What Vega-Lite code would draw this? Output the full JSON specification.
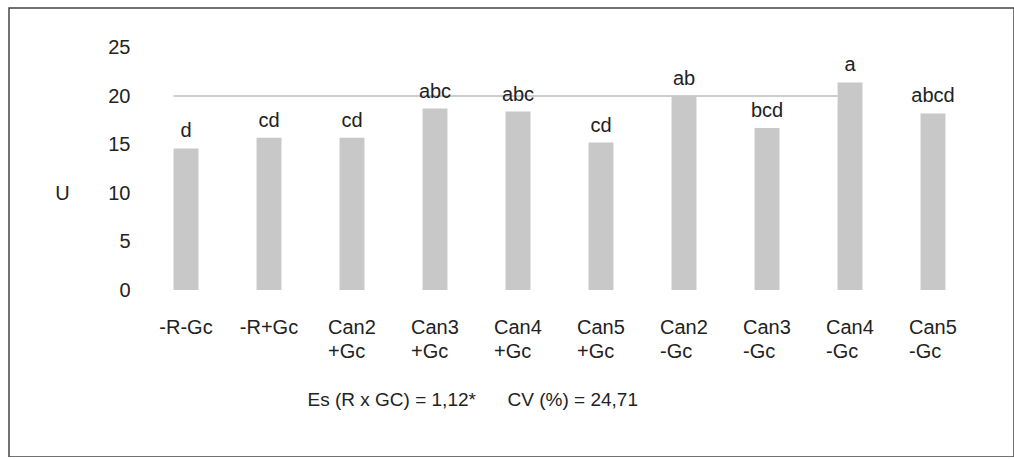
{
  "$schema": "https://vega.github.io/schema/vega-lite/v6.json",
  "autosize": {"type": "none"},
  "padding": {"left": 9, "top": 8, "right": 0, "bottom": 0},
  "width": 1005,
  "height": 449,
  "background": "white",
  "config": {
    "view": {"stroke": "#444444", "strokeWidth": 1.5},
    "font": "Liberation Sans",
    "text": {"font": "Liberation Sans"}
  },
  "data": {
    "values": [
      {"trt": "-R-Gc", "val": 14.6, "grp": "d"},
      {"trt": "-R+Gc", "val": 15.7, "grp": "cd"},
      {"trt": "Can2 +Gc", "val": 15.7, "grp": "cd"},
      {"trt": "Can3 +Gc", "val": 18.7, "grp": "abc"},
      {"trt": "Can4 +Gc", "val": 18.4, "grp": "abc"},
      {"trt": "Can5 +Gc", "val": 15.2, "grp": "cd"},
      {"trt": "Can2 -Gc", "val": 20.0, "grp": "ab"},
      {"trt": "Can3 -Gc", "val": 16.7, "grp": "bcd"},
      {"trt": "Can4 -Gc", "val": 21.4, "grp": "a"},
      {"trt": "Can5 -Gc", "val": 18.2, "grp": "abcd"}
    ]
  },
  "layer": [
    {
      "data": {"values": [{"y": 20, "a": "-R-Gc", "b": "Can4 -Gc"}]},
      "mark": {"type": "rule", "color": "#bdbdbd", "strokeWidth": 1.5},
      "encoding": {
        "x": {"field": "a", "type": "nominal", "bandPosition": 0},
        "x2": {"field": "b", "bandPosition": 0},
        "y": {"field": "y", "type": "quantitative"}
      }
    },
    {
      "mark": {"type": "bar", "color": "#c8c8c8"},
      "encoding": {
        "x": {
          "field": "trt",
          "type": "nominal",
          "sort": null,
          "scale": {
            "domain": ["-R-Gc", "-R+Gc", "Can2 +Gc", "Can3 +Gc", "Can4 +Gc", "Can5 +Gc", "Can2 -Gc", "Can3 -Gc", "Can4 -Gc", "Can5 -Gc"],
            "range": [135.5, 965.5],
            "paddingInner": 0.7,
            "paddingOuter": 0.35
          },
          "axis": {
            "orient": "bottom",
            "offset": -167,
            "domain": false,
            "ticks": false,
            "grid": false,
            "labelAngle": 0,
            "labelPadding": 43,
            "labelBaseline": "alphabetic",
            "labelFontSize": 20,
            "labelLineHeight": 24,
            "labelColor": "#222222",
            "labelOverlap": false,
            "labelBound": false,
            "labelExpr": "split(datum.value, ' ')",
            "labelAlign": {"condition": {"test": "indexof(datum.value, ' ') > 0", "value": "left"}, "value": "center"},
            "labelOffset": {"condition": {"test": "indexof(datum.value, ' ') > 0", "value": -24}, "value": 0},
            "title": "Es (R x GC) = 1,12*\u00a0\u00a0\u00a0\u00a0\u00a0\u00a0CV (%) = 24,71",
            "titleX": 298,
            "titleY": 115,
            "titleAlign": "left",
            "titleAnchor": null,
            "titleBaseline": "alphabetic",
            "titleFontSize": 19,
            "titleFontWeight": "normal",
            "titleColor": "#222222"
          }
        },
        "y": {
          "field": "val",
          "type": "quantitative",
          "scale": {"domain": [0, 25], "range": [282, 39.5], "nice": false, "zero": true},
          "axis": {
            "orient": "left",
            "offset": -131,
            "domain": false,
            "ticks": false,
            "grid": false,
            "values": [0, 5, 10, 15, 20, 25],
            "labelPadding": 10,
            "labelFontSize": 20,
            "labelColor": "#222222",
            "title": "U",
            "titleAngle": 0,
            "titleX": -78,
            "titleY": 185,
            "titleAlign": "center",
            "titleBaseline": "middle",
            "titleFontSize": 20,
            "titleFontWeight": "normal",
            "titleColor": "#222222"
          }
        }
      }
    },
    {
      "mark": {"type": "text", "fontSize": 20, "color": "#222222", "baseline": "alphabetic", "dy": -11},
      "encoding": {
        "x": {"field": "trt", "type": "nominal", "sort": null},
        "y": {"field": "val", "type": "quantitative"},
        "text": {"field": "grp"}
      }
    }
  ]
}
